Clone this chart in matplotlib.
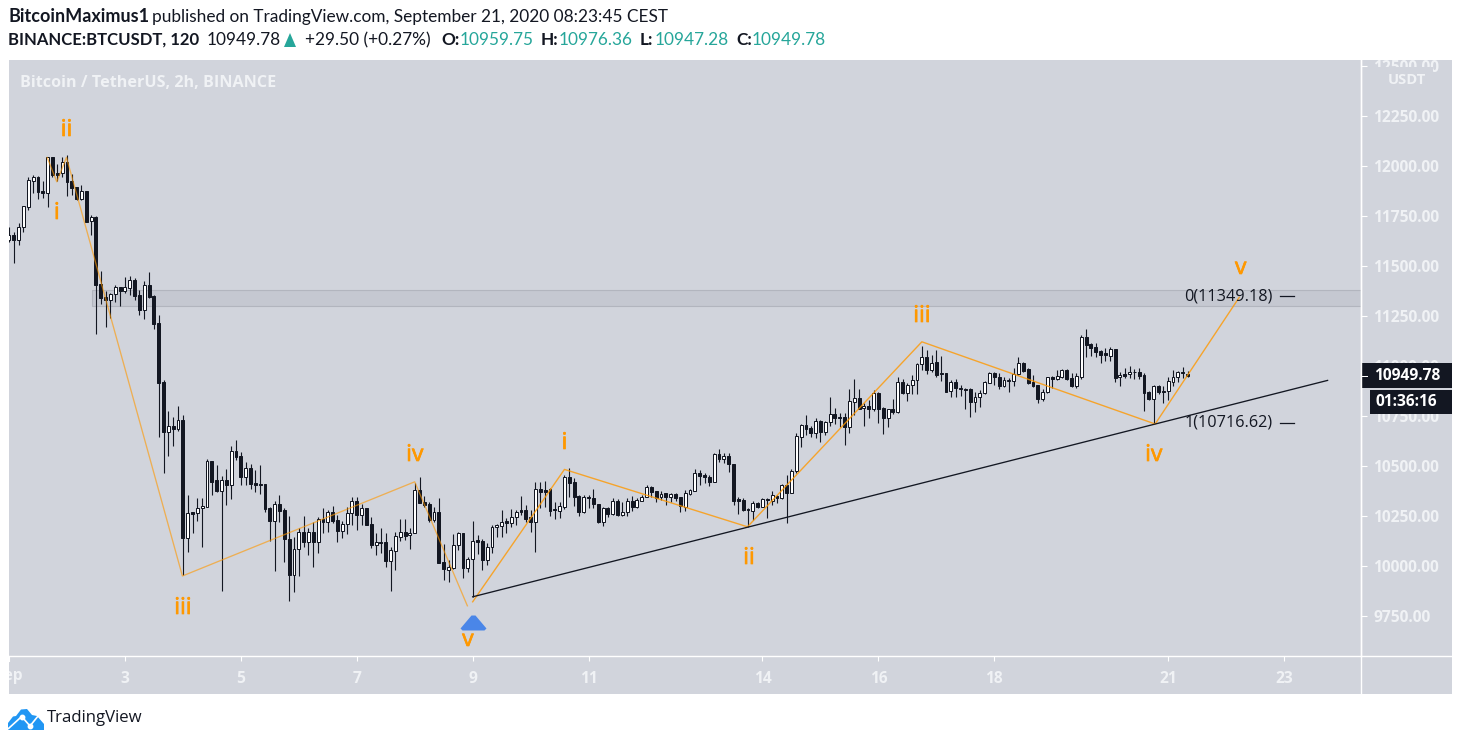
#================================================================================
# BTCUSDT 2h candles with elliott wave counts, TradingView style snapshot
#================================================================================

import matplotlib
matplotlib.use("Agg")
import matplotlib.pyplot as plt
import matplotlib.patheffects as pe
from matplotlib.patches import Rectangle, Polygon
from matplotlib.transforms import Affine2D

#================================================================================
# Data

# One candle every 2 hours, 12 per day, first one on Sep 1
opens = [
    11630, 11655, 11630, 11693, 11797, 11927, 11943, 11875, 11867, 12043, 11963, 11963,
    12018, 11925, 11893, 11837, 11875, 11727, 11743, 11410, 11343, 11332, 11358, 11393,
    11377, 11392, 11430, 11355, 11280, 11405, 11350, 11213, 10920, 10672, 10698, 10687,
    10728, 10142, 10270, 10267, 10288, 10297, 10525, 10430, 10377, 10430, 10407, 10575,
    10550, 10447, 10488, 10413, 10410, 10410, 10290, 10227, 10308, 10280, 10133, 9957,
    10083, 10168, 10122, 10168, 10122, 10233, 10222, 10268, 10230, 10177, 10208, 10263,
    10323, 10257, 10288, 10208, 10107, 10118, 10118, 10025, 10077, 10147, 10168, 10153,
    10163, 10380, 10318, 10310, 10230, 10268, 10018, 9982, 9992, 10103, 10163, 9992,
    10033, 10130, 10125, 10028, 10093, 10193, 10202, 10223, 10217, 10247, 10278, 10278,
    10243, 10222, 10383, 10380, 10383, 10283, 10277, 10297, 10443, 10420, 10348, 10272,
    10343, 10338, 10308, 10222, 10290, 10260, 10325, 10255, 10268, 10325, 10293, 10327,
    10347, 10393, 10375, 10343, 10363, 10343, 10358, 10343, 10297, 10362, 10377, 10463,
    10455, 10447, 10422, 10560, 10535, 10550, 10508, 10333, 10330, 10285, 10277, 10313,
    10297, 10337, 10327, 10350, 10340, 10403, 10367, 10473, 10647, 10703, 10690, 10667,
    10723, 10672, 10718, 10758, 10743, 10743, 10697, 10822, 10838, 10790, 10798, 10787,
    10867, 10788, 10742, 10783, 10772, 10918, 10867, 10903, 10928, 11008, 11043, 10980,
    11018, 10963, 10963, 10877, 10918, 10888, 10885, 10885, 10822, 10843, 10863, 10917,
    10967, 10943, 10902, 10927, 10927, 10958, 11013, 10983, 10920, 10905, 10837, 10868,
    10943, 10935, 10943, 10980, 10938, 10902, 10947, 11143, 11108, 11093, 11075, 11067,
    11052, 11083, 10943, 10960, 10958, 10972, 10968, 10955, 10868, 10837, 10900, 10875,
    10875, 10922, 10947, 10968, 10959.75,
]
highs = [
    11697, 11672, 11713, 11800, 11943, 11955, 11950, 11925, 12047, 12047, 12010, 12043,
    12053, 11958, 11897, 11903, 11875, 11755, 11750, 11475, 11375, 11363, 11405, 11393,
    11443, 11450, 11438, 11380, 11425, 11470, 11353, 11255, 10930, 10775, 10743, 10800,
    10755, 10355, 10272, 10338, 10338, 10533, 10527, 10505, 10450, 10483, 10600, 10630,
    10568, 10522, 10510, 10480, 10505, 10410, 10297, 10323, 10355, 10288, 10250, 10147,
    10188, 10250, 10188, 10222, 10247, 10288, 10280, 10300, 10255, 10227, 10293, 10347,
    10347, 10310, 10288, 10247, 10163, 10188, 10163, 10097, 10172, 10233, 10233, 10188,
    10417, 10443, 10350, 10322, 10293, 10338, 10110, 10030, 10158, 10172, 10167, 10047,
    10223, 10155, 10133, 10113, 10205, 10210, 10280, 10238, 10285, 10280, 10350, 10305,
    10280, 10420, 10420, 10425, 10388, 10322, 10322, 10455, 10488, 10442, 10355, 10355,
    10355, 10383, 10308, 10293, 10293, 10338, 10333, 10322, 10338, 10350, 10338, 10355,
    10405, 10402, 10375, 10377, 10363, 10363, 10363, 10343, 10380, 10383, 10485, 10480,
    10463, 10455, 10563, 10585, 10563, 10567, 10508, 10347, 10342, 10288, 10327, 10322,
    10338, 10338, 10375, 10355, 10408, 10455, 10483, 10663, 10710, 10755, 10700, 10738,
    10730, 10727, 10843, 10788, 10763, 10763, 10883, 10933, 10883, 10813, 10830, 10880,
    10872, 10793, 10787, 10833, 10947, 10933, 10913, 10955, 11017, 11100, 11080, 11055,
    11080, 11050, 10963, 10930, 10935, 10905, 10888, 10888, 10872, 10880, 10927, 10972,
    10972, 10963, 10943, 10938, 10988, 11043, 11018, 10988, 10955, 10905, 10883, 10947,
    10950, 10980, 10985, 10983, 10963, 10963, 11155, 11183, 11113, 11113, 11080, 11088,
    11093, 11083, 10968, 10988, 11000, 10983, 10988, 10963, 10877, 10905, 10905, 10900,
    10947, 10980, 10977, 10993, 10976.36,
]
lows = [
    11622, 11517, 11605, 11672, 11780, 11867, 11837, 11838, 11797, 11947, 11927, 11943,
    11850, 11855, 11830, 11830, 11718, 11655, 11160, 11310, 11197, 11238, 11322, 11300,
    11367, 11355, 11330, 11255, 11237, 11342, 11183, 10647, 10463, 10552, 10602, 10677,
    9955, 10072, 10167, 10227, 10097, 10297, 10355, 10372, 9877, 10305, 10335, 10530,
    10405, 10403, 10385, 10370, 10360, 10272, 10125, 9975, 10220, 10020, 9827, 9872,
    9950, 10097, 10055, 9997, 10067, 10167, 10170, 10213, 10122, 10138, 10160, 10205,
    10180, 10205, 10205, 10088, 10055, 10067, 9997, 9877, 9980, 10125, 10130, 10085,
    10163, 10313, 10297, 10222, 10222, 10013, 9930, 9922, 9983, 10080, 9938, 9972,
    9847, 10060, 9980, 10005, 10063, 10143, 10147, 10163, 10193, 10205, 10255, 10222,
    10172, 10072, 10288, 10297, 10250, 10233, 10238, 10285, 10343, 10300, 10252, 10267,
    10288, 10292, 10213, 10200, 10243, 10255, 10250, 10252, 10250, 10277, 10288, 10325,
    10343, 10343, 10322, 10330, 10305, 10318, 10323, 10272, 10275, 10355, 10377, 10405,
    10413, 10402, 10422, 10522, 10517, 10472, 10307, 10258, 10277, 10197, 10230, 10288,
    10293, 10242, 10305, 10313, 10335, 10217, 10363, 10467, 10597, 10655, 10643, 10638,
    10622, 10655, 10700, 10710, 10693, 10605, 10667, 10755, 10783, 10700, 10738, 10777,
    10713, 10660, 10693, 10760, 10767, 10860, 10827, 10860, 10860, 10980, 10960, 10972,
    10943, 10927, 10868, 10847, 10843, 10850, 10783, 10747, 10772, 10797, 10860, 10913,
    10905, 10885, 10897, 10872, 10902, 10955, 10968, 10910, 10897, 10817, 10825, 10863,
    10888, 10930, 10938, 10930, 10897, 10892, 10937, 11047, 11050, 11047, 11013, 11027,
    11027, 10922, 10902, 10938, 10938, 10933, 10933, 10777, 10830, 10713, 10860, 10813,
    10830, 10900, 10922, 10938, 10947.28,
]
closes = [
    11655, 11630, 11693, 11800, 11930, 11943, 11872, 11867, 12043, 11955, 11955, 12018,
    11922, 11892, 11837, 11875, 11722, 11743, 11405, 11342, 11332, 11360, 11393, 11377,
    11393, 11430, 11350, 11280, 11405, 11347, 11210, 10917, 10672, 10698, 10687, 10728,
    10142, 10263, 10260, 10288, 10298, 10525, 10422, 10377, 10430, 10407, 10575, 10547,
    10447, 10488, 10410, 10405, 10405, 10285, 10227, 10308, 10277, 10133, 9957, 10083,
    10168, 10122, 10168, 10122, 10233, 10222, 10268, 10225, 10177, 10208, 10263, 10323,
    10257, 10290, 10207, 10107, 10118, 10113, 10025, 10080, 10150, 10168, 10150, 10163,
    10380, 10317, 10305, 10230, 10268, 10017, 9985, 9993, 10103, 10163, 9992, 10033,
    10127, 10120, 10028, 10093, 10193, 10203, 10222, 10217, 10247, 10272, 10270, 10235,
    10222, 10383, 10372, 10372, 10277, 10278, 10298, 10443, 10417, 10347, 10272, 10343,
    10338, 10308, 10222, 10288, 10260, 10323, 10255, 10268, 10325, 10293, 10330, 10347,
    10393, 10372, 10342, 10362, 10347, 10358, 10338, 10300, 10363, 10380, 10463, 10452,
    10443, 10418, 10560, 10533, 10550, 10508, 10325, 10327, 10280, 10280, 10313, 10293,
    10337, 10330, 10353, 10342, 10403, 10367, 10473, 10650, 10703, 10687, 10667, 10723,
    10672, 10720, 10758, 10742, 10740, 10697, 10823, 10838, 10787, 10798, 10787, 10867,
    10787, 10742, 10783, 10772, 10918, 10867, 10903, 10928, 11008, 11043, 10980, 11017,
    10955, 10958, 10872, 10918, 10888, 10883, 10880, 10822, 10843, 10867, 10920, 10967,
    10943, 10900, 10930, 10930, 10960, 11013, 10977, 10917, 10902, 10837, 10872, 10943,
    10937, 10948, 10980, 10937, 10902, 10950, 11143, 11105, 11092, 11072, 11057, 11055,
    11085, 10942, 10955, 10952, 10968, 10968, 10950, 10867, 10837, 10900, 10870, 10872,
    10923, 10947, 10970, 10963, 10949.78,
]

# Axis ticks
price_ticks = [12500, 12250, 12000, 11750, 11500, 11250, 11000, 10750, 10500, 10250, 10000, 9750]
day_ticks = [3, 5, 7, 9, 11, 14, 16, 18, 21, 23]

# Wave drawings: bar index and price of each pivot
down_wave_bars = [7.9, 9.9, 11.9, 35.9, 84, 94.9]
down_wave_prices = [12043, 11921, 12043, 9950, 10421, 9801]
up_wave_bars = [96, 115, 152.9, 189, 237.3, 254.7]
up_wave_prices = [9821, 10483, 10196, 11121, 10710, 11343]

# Wave labels
wave_labels = ["ii", "i", "iii", "iv", "v", "i", "ii", "iii", "iv", "v"]
wave_label_bars = [11.9, 9.9, 36, 84, 95, 115, 153.2, 189, 237, 255]
wave_label_prices = [12180, 11765, 9790, 10555, 9630, 10615, 10040, 11250, 10555, 11490]

# Trend line
trend_bars = [96, 273]
trend_prices = [9846, 10928]

# Resistance band
band_low = 11300
band_high = 11378
band_start = 17.2

# Fib levels
fib_levels = [11349.18, 10716.62]
fib_names = ["0(11349.18)", "1(10716.62)"]

last_close = 10949.78
signal_bar = 96
signal_price = 9722

#================================================================================
# Style

panel_color = "#d1d4dc"
band_color = "#c5c8d1"
dark = "#131722"
orange = "#ff9800"
teal = "#26a69a"
scale_text = "#f0f2f5"
chart_font = "Open Sans"
head_font = "Lato"

fig_w = 1461
fig_h = 744
plot_left = 9
plot_right = 1361
plot_top = 60
plot_bottom = 656
panel_right = 1452
panel_bottom = 694
bar_step = 4.83   # pixels per candle

# Top-left pixel coordinates for everything that sits outside the scales
px = Affine2D().scale(1, -1).translate(0, fig_h)

#================================================================================
# Figure

fig = plt.figure(figsize=(fig_w / 100, fig_h / 100), dpi=100, facecolor="white")
panel = Rectangle((plot_left, plot_top), panel_right - plot_left, panel_bottom - plot_top,
                  transform=px, facecolor=panel_color, edgecolor="none", zorder=-1)
fig.add_artist(panel)

ax = fig.add_axes([plot_left / fig_w, 1 - plot_bottom / fig_h,
                   (plot_right - plot_left) / fig_w, (plot_bottom - plot_top) / fig_h])
ax.patch.set_visible(False)
ax.set_xlim(0, (plot_right - plot_left) / bar_step)
ax.set_ylim(12000 - (plot_bottom - 166) * 5, 12000 + (166 - plot_top) * 5)

for side in ["top", "left"]:
    ax.spines[side].set_visible(False)
for side in ["right", "bottom"]:
    ax.spines[side].set_color("white")
    ax.spines[side].set_linewidth(1.0)

# Extend the axis lines across the scale panel
fig.add_artist(plt.Line2D([plot_right, plot_right], [plot_top, panel_bottom], transform=px,
                          color="white", lw=1.0))
fig.add_artist(plt.Line2D([plot_right, panel_right], [plot_bottom, plot_bottom], transform=px,
                          color="white", lw=1.0))

# Price scale
ax.yaxis.tick_right()
ax.set_yticks(price_ticks)
ax.set_yticklabels(["%.2f" % p for p in price_ticks], fontfamily=chart_font, fontsize=11.2,
                   fontweight="bold", color=scale_text)
ax.tick_params(axis="y", length=4.5, width=0.8, color="white", pad=4.5)
ax.get_yticklabels()[0].set_clip_path(panel)

# Time scale
ax.set_xticks([(d - 1) * 12 for d in day_ticks])
ax.set_xticklabels([str(d) for d in day_ticks], fontfamily=chart_font, fontsize=11.2,
                   fontweight="bold", color=scale_text)
ax.tick_params(axis="x", length=3.5, width=0.8, color="white", pad=7)
month = ax.text(plot_left, 676, "Sep", transform=px, ha="center", va="center",
                fontfamily=chart_font, fontsize=11.2, fontweight="bold", color=scale_text,
                clip_on=True)
month.set_clip_path(panel)
fig.add_artist(plt.Line2D([plot_left, plot_left], [plot_bottom, plot_bottom + 5], transform=px,
                          color="white", lw=0.8))

# Resistance band
ax.add_patch(Rectangle((band_start, band_low), ax.get_xlim()[1] - band_start, band_high - band_low,
                       facecolor=band_color, edgecolor="#b2b5be", lw=0.8, zorder=1))

# Candles
for i in range(len(opens)):
    ax.vlines(i, lows[i], highs[i], color=dark, lw=0.8, zorder=2)
    up = closes[i] >= opens[i]
    ax.bar(i, abs(closes[i] - opens[i]), bottom=min(opens[i], closes[i]), width=0.6,
           facecolor="white" if up else dark, edgecolor=dark, lw=0.72, zorder=3)

# Wave drawings and trend line
ax.plot(down_wave_bars, down_wave_prices, color=orange, alpha=0.62, lw=0.95, zorder=4)
ax.plot(up_wave_bars, up_wave_prices, color=orange, alpha=0.8, lw=1.0, zorder=4)
ax.plot(trend_bars, trend_prices, color=dark, lw=0.95, zorder=4)

for name, bar, price in zip(wave_labels, wave_label_bars, wave_label_prices):
    ax.text(bar, price, name, color=orange, fontfamily=chart_font, fontsize=16.5, ha="center",
            va="center", zorder=5,
            path_effects=[pe.withStroke(linewidth=0.5, foreground=orange)])

# Signal arrow
arrow = [(-13, -6), (-11, -8), (11, -8), (13, -6), (2, 7), (-2, 7)]
ax.plot([signal_bar], [signal_price], marker=arrow, markersize=18.7, color="#4a86e8",
        markeredgecolor="none", clip_on=False, zorder=5)

# Fib levels
for level, name in zip(fib_levels, fib_names):
    ax.annotate(name, (263.1, level), xytext=(-5, 0), textcoords="offset points", ha="right",
                va="center", color=dark, fontfamily=chart_font, fontsize=11.7, zorder=5)
    ax.plot([263.1, 266], [level, level], color=dark, lw=0.9, zorder=5)

#================================================================================
# Texts outside the scales

def put(x, y, s, **kw):
    kw.setdefault("fontfamily", head_font)
    kw.setdefault("fontsize", 12.4)
    kw.setdefault("color", dark)
    kw.setdefault("va", "center")
    fig.text(x, y, s, transform=px, **kw)

put(8, 17, "BitcoinMaximus1", fontweight="bold", fontsize=13)
put(152, 17, "published on TradingView.com, September 21, 2020 08:23:45 CEST")

put(8, 40, "BINANCE:BTCUSDT, 120", fontweight="bold", fontsize=12)
put(207, 40, "%.2f" % last_close)
fig.add_artist(Polygon([(284, 47), (296, 47), (290, 33)], transform=px, facecolor=teal,
                       edgecolor="none"))
put(305, 40, "+29.50 (+0.27%)")
for x, key, val_x, val in [(441, "O:", 460, opens[-1]), (541, "H:", 559, highs[-1]),
                           (640, "L:", 655, lows[-1]), (736, "C:", 752, closes[-1])]:
    put(x, 40, key, fontweight="bold")
    put(val_x, 40, "%.2f" % val, color=teal)

put(20, 83, "Bitcoin / TetherUS, 2h, BINANCE", fontfamily=chart_font, fontsize=11.6,
    fontweight="bold", color=scale_text)

#================================================================================
# Boxes in front of the price scale

# USDT box hides the lower part of the top label
ax.add_patch(Rectangle((1370, 67), 63, 26, transform=px, facecolor=panel_color, edgecolor="none",
                       clip_on=False, zorder=6))
ax.text(1407, 80, "USDT", transform=px, ha="center", va="center", fontfamily=chart_font,
        fontsize=10.6, fontweight="bold", color=scale_text, clip_on=False, zorder=7)

ax.add_patch(Rectangle((1362, 363), 90, 25, transform=px, facecolor=dark, edgecolor="none",
                       clip_on=False, zorder=6))
ax.add_patch(Rectangle((1362, 375.5), 6, 1, transform=px, facecolor="white", edgecolor="none",
                       clip_on=False, zorder=7))
ax.text(1374, 376, "%.2f" % last_close, transform=px, ha="left", va="center",
        fontfamily=chart_font, fontsize=11.2, fontweight="bold", color="white",
        clip_on=False, zorder=7)
ax.add_patch(Rectangle((1370, 390), 82, 24, transform=px, facecolor=dark, edgecolor="none",
                       clip_on=False, zorder=6))
ax.text(1375, 402, "01:36:16", transform=px, ha="left", va="center", fontfamily=chart_font,
        fontsize=11.2, fontweight="bold", color="white", clip_on=False, zorder=7)

#================================================================================
# Footer logo

cloud = [(8, 730), (8, 723), (13, 716.5), (16, 716), (21, 709.5), (27, 709), (32, 715),
         (37, 716), (44, 724), (44, 730)]
fig.add_artist(Polygon(cloud, transform=px, facecolor="#2196f3", edgecolor="none"))
fig.add_artist(plt.Line2D([8.5, 21.7, 30, 38.5], [728.5, 716.5, 726, 715.5], transform=px,
                          color="white", lw=1.2))
fig.add_artist(plt.Line2D([21.7, 30], [716.5, 726], transform=px, color="white", lw=0,
                          marker="o", markersize=3.2))
put(47, 718.5, "TradingView", fontfamily=chart_font, fontsize=12.1)

fig.savefig("out.png", dpi=100, facecolor="white")
